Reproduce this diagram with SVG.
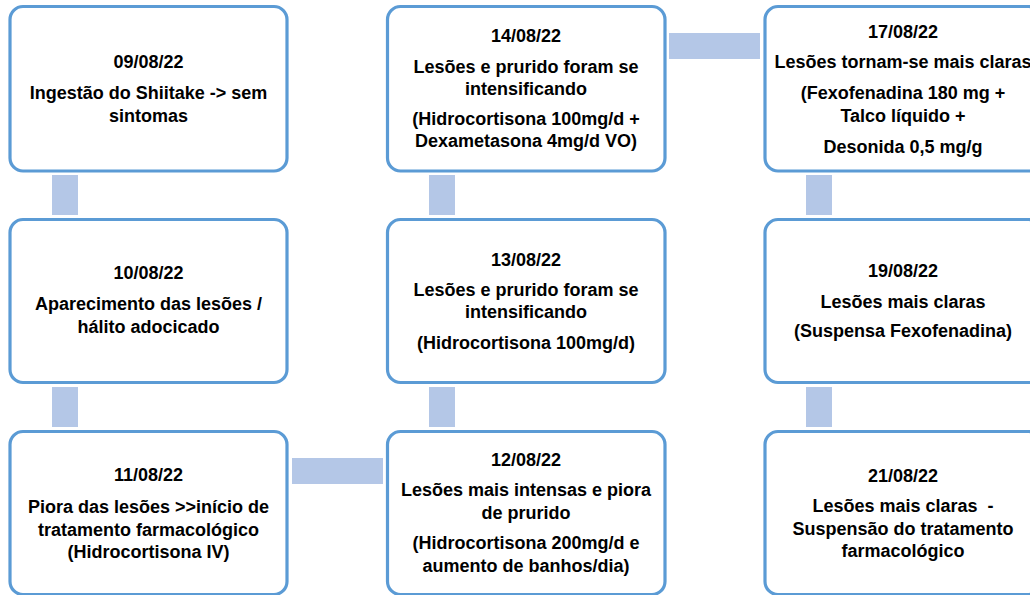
<svg xmlns="http://www.w3.org/2000/svg" width="1030" height="595" viewBox="0 0 1030 595">
<style>
.box{fill:#ffffff;stroke:#5b9bd5;stroke-width:3.2}
.con{fill:#b4c7e7;stroke:none}
text{font-family:"Liberation Sans",Arial,sans-serif;font-weight:bold;font-size:18px;fill:#000000;text-anchor:middle}
</style>
<rect x="0" y="0" width="1030" height="595" fill="#ffffff"/>
<g id="connectors">
<rect class="con" x="52" y="175" width="26" height="40"/>
<rect class="con" x="52" y="387" width="26" height="40"/>
<rect class="con" x="429" y="175" width="26" height="40"/>
<rect class="con" x="429" y="387" width="26" height="40"/>
<rect class="con" x="806" y="175" width="26" height="40"/>
<rect class="con" x="806" y="387" width="26" height="40"/>
<rect class="con" x="292" y="458" width="91" height="26"/>
<rect class="con" x="669" y="33" width="91" height="26"/>
</g>
<g id="n0908">
<rect class="box" x="10" y="6.5" width="277" height="164.5" rx="13"/>
<text x="148.5" y="68">09/08/22</text>
<text x="148.5" y="99">Ingestão do Shiitake -&gt; sem</text>
<text x="148.5" y="122">sintomas</text>
</g>
<g id="n1008">
<rect class="box" x="10" y="219.5" width="277" height="163" rx="13"/>
<text x="148.5" y="279">10/08/22</text>
<text x="148.5" y="310">Aparecimento das lesões /</text>
<text x="148.5" y="333">hálito adocicado</text>
</g>
<g id="n1108">
<rect class="box" x="10" y="431.5" width="277" height="163" rx="13"/>
<text x="148.5" y="481">11/08/22</text>
<text x="148.5" y="512.5">Piora das lesões &gt;&gt;início de</text>
<text x="148.5" y="535.5">tratamento farmacológico</text>
<text x="148.5" y="558">(Hidrocortisona IV)</text>
</g>
<g id="n1208">
<rect class="box" x="387.5" y="431.5" width="277.5" height="163" rx="13"/>
<text x="526" y="465.5">12/08/22</text>
<text x="526" y="496">Lesões mais intensas e piora</text>
<text x="526" y="519">de prurido</text>
<text x="526" y="549">(Hidrocortisona 200mg/d e</text>
<text x="526" y="571.5">aumento de banhos/dia)</text>
</g>
<g id="n1308">
<rect class="box" x="387.5" y="219.5" width="277.5" height="163" rx="13"/>
<text x="526" y="265.5">13/08/22</text>
<text x="526" y="296">Lesões e prurido foram se</text>
<text x="526" y="318">intensificando</text>
<text x="526" y="349">(Hidrocortisona 100mg/d)</text>
</g>
<g id="n1408">
<rect class="box" x="387.5" y="6.5" width="277.5" height="164.5" rx="13"/>
<text x="526" y="42">14/08/22</text>
<text x="526" y="73">Lesões e prurido foram se</text>
<text x="526" y="95">intensificando</text>
<text x="526" y="125">(Hidrocortisona 100mg/d +</text>
<text x="526" y="147">Dexametasona 4mg/d VO)</text>
</g>
<g id="n1708">
<rect class="box" x="765" y="6.5" width="277" height="164.5" rx="13"/>
<text x="903" y="37.5">17/08/22</text>
<text x="903" y="68">Lesões tornam-se mais claras</text>
<text x="903" y="99">(Fexofenadina 180 mg +</text>
<text x="903" y="122">Talco líquido +</text>
<text x="903" y="153">Desonida 0,5 mg/g</text>
</g>
<g id="n1908">
<rect class="box" x="765" y="219.5" width="277" height="163" rx="13"/>
<text x="903" y="277">19/08/22</text>
<text x="903" y="308">Lesões mais claras</text>
<text x="903" y="337">(Suspensa Fexofenadina)</text>
</g>
<g id="n2108">
<rect class="box" x="765" y="431.5" width="277" height="163" rx="13"/>
<text x="903" y="481.5">21/08/22</text>
<text x="903" y="511.5" xml:space="preserve">Lesões mais claras  -</text>
<text x="903" y="535">Suspensão do tratamento</text>
<text x="903" y="556.5">farmacológico</text>
</g>
</svg>
